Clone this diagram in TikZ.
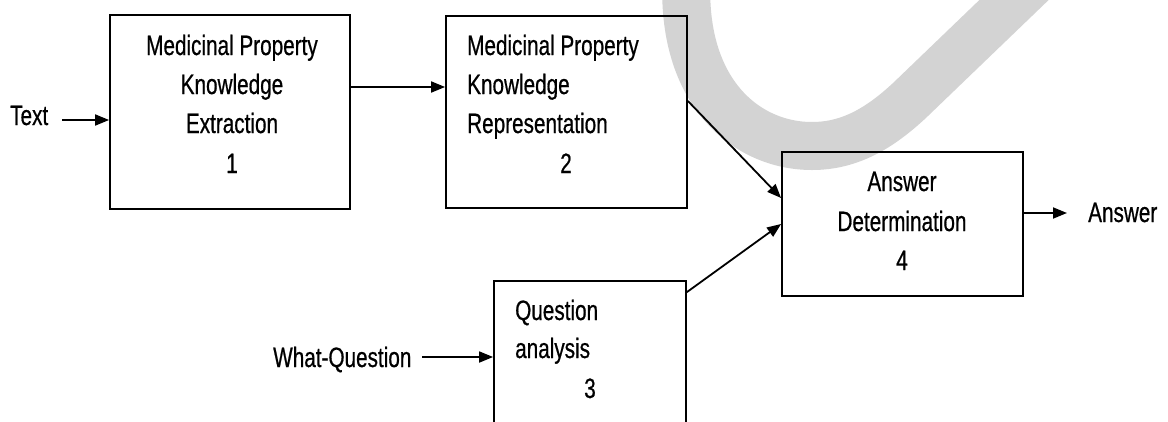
\documentclass[tikz,border=0pt]{standalone}
\usepackage{fontspec}
\setmainfont[FakeStretch=0.74,FakeBold=0.6]{Liberation Sans}
\usetikzlibrary{arrows.meta}
\definecolor{wm}{RGB}{211,211,211}
\begin{document}
\begin{tikzpicture}[x=1pt,y=-1pt,
  box/.style={draw, line width=1.8pt, inner sep=0pt},
  lbl/.style={font=\fontsize{28}{39}\selectfont, inner sep=0pt},
  arr/.style={line width=1.8pt, -{Triangle[length=14pt,width=11pt]}}]
\useasboundingbox (0,0) rectangle (1168,421);
\clip (0,0) rectangle (1168,421);
% watermark arc
\draw[wm, line width=48pt] (687,-30) .. controls (678,90) and (745,146) .. (812,146)
   .. controls (850,146) and (880,128) .. (910,100) -- (1040,-25);
% boxes
\node[box, minimum width=240pt, minimum height=194pt] (b1) at (230,112) {};
\node[box, minimum width=241pt, minimum height=192pt] (b2) at (566.5,112) {};
\node[box, minimum width=192pt, minimum height=179pt] (b3) at (590,370.5) {};
\node[box, minimum width=241pt, minimum height=144pt] (b4) at (902.5,224) {};
% box 1 text
\node[lbl, anchor=base] (t1a) at (232,55) {Medicinal Property};
\node[lbl, anchor=base] (t1b) at (232,94) {Knowledge};
\node[lbl, anchor=base] (t1c) at (232,133) {Extraction};
\node[lbl, anchor=base] (t1d) at (232,173) {1};
% box 2 text
\node[lbl, anchor=base west] (t2a) at (467,55) {Medicinal Property};
\node[lbl, anchor=base west] (t2b) at (467,94) {Knowledge};
\node[lbl, anchor=base west] (t2c) at (467,133) {Representation};
\node[lbl, anchor=base] (t2d) at (566,173) {2};
% box 3 text
\node[lbl, anchor=base west] (t3a) at (515,320) {Question};
\node[lbl, anchor=base west] (t3b) at (515,358) {analysis};
\node[lbl, anchor=base] (t3c) at (590,398) {3};
% box 4 text
\node[lbl, anchor=base] (t4a) at (902,191) {Answer};
\node[lbl, anchor=base] (t4b) at (902,231) {Determination};
\node[lbl, anchor=base] (t4c) at (902,270) {4};
% outside labels
\node[lbl, anchor=base west] (intext) at (10,125) {Text};
\node[lbl, anchor=base west] (inq) at (273,367) {What-Question};
\node[lbl, anchor=base west] (outa) at (1088,222) {Answer};
% connector free ends
\coordinate (ct) at (62,120);
\coordinate (cq) at (422,357);
\coordinate (ca) at (1067,213);
% connectors
\draw[arr] (ct) -- (b1.west |- ct);
\draw[arr] (cq) -- (b3.west |- cq);
\draw[arr] ([yshift=25pt]b1.east) -- ([yshift=25pt]b2.west);
\draw[arr] ([yshift=11pt]b2.east) -- ([yshift=26pt]b4.west);
\draw[arr] ([yshift=-12pt]b3.north east) -- (b4.west);
\draw[arr] (b4.east |- ca) -- (ca);
\end{tikzpicture}
\end{document}
